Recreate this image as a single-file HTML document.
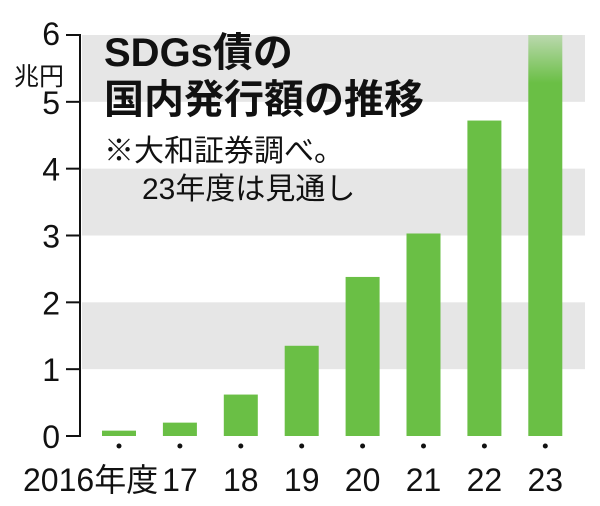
<!DOCTYPE html>
<html><head><meta charset="utf-8"><style>
body{margin:0;background:#fff;}
svg{display:block;font-family:"Liberation Sans","Noto Sans CJK JP",sans-serif;}
</style></head><body>
<svg width="600" height="506" viewBox="0 0 600 506">
<defs><linearGradient id="fade" x1="0" y1="0" x2="0" y2="1"><stop offset="0" stop-color="#6abf45" stop-opacity="0.35"/><stop offset="0.12" stop-color="#6abf45"/></linearGradient></defs>
<g id="bands"></g>
<g id="bars"></g>
<g id="axis"></g>
<text x="104" y="66" font-size="40" font-weight="bold" fill="#111">SDGs債の</text>
<text x="104" y="113" font-size="40" font-weight="bold" fill="#111">国内発行額の推移</text>
<text x="104" y="161" font-size="30" fill="#111">※大和証券調べ。</text>
<text x="142" y="199" font-size="30" fill="#111">23年度は見通し</text>
<text x="14" y="85" font-size="25" fill="#111">兆円</text>
</svg>
<script>
const categories=["2016年度","17","18","19","20","21","22","23"];
const values=[0.08,0.2,0.62,1.35,2.38,3.03,4.72,6.0];
const yTicks=[0,1,2,3,4,5,6];
const NS="http://www.w3.org/2000/svg";
const y0=436,y6=35,left=82,right=585;
function yScale(v){return y0-(y0-y6)*v/6;}
function xScale(i){return 119+i*60.9;}
function mk(t,a,p){const e=document.createElementNS(NS,t);for(const k in a)e.setAttribute(k,a[k]);p.appendChild(e);return e;}
const bands=document.getElementById('bands'),bars=document.getElementById('bars'),axis=document.getElementById('axis');
for(let v=1;v<6;v+=2){
const r=mk('rect',{x:left,y:yScale(v+1),width:right-left,height:yScale(v)-yScale(v+1),fill:'#e6e6e6'},bands);


}
values.forEach((v,i)=>{
const last=i===values.length-1;
const r=mk('rect',{x:xScale(i)-17,y:yScale(v),width:34,height:y0-yScale(v),fill:last?'url(#fade)':'#6abf45'},bars);


const d=mk('circle',{cx:xScale(i),cy:446,r:2.5,fill:'#111'},bars);


const t=mk('text',{x:i===0?xScale(i)-96:xScale(i),y:491,'font-size':32,fill:'#111','text-anchor':i===0?'start':'middle'},bars);
t.textContent=categories[i];


});
const ax=mk('line',{x1:80,y1:y6,x2:80,y2:y0,stroke:'#111','stroke-width':2},axis);


yTicks.forEach(v=>{
const l=mk('line',{x1:66,y1:yScale(v),x2:81,y2:yScale(v),stroke:'#111','stroke-width':2},axis);


const t=mk('text',{x:60,y:yScale(v)+(v===6?10:12),'font-size':32,fill:'#111','text-anchor':'end'},axis);
t.textContent=v;


});
</script>
</body></html>
